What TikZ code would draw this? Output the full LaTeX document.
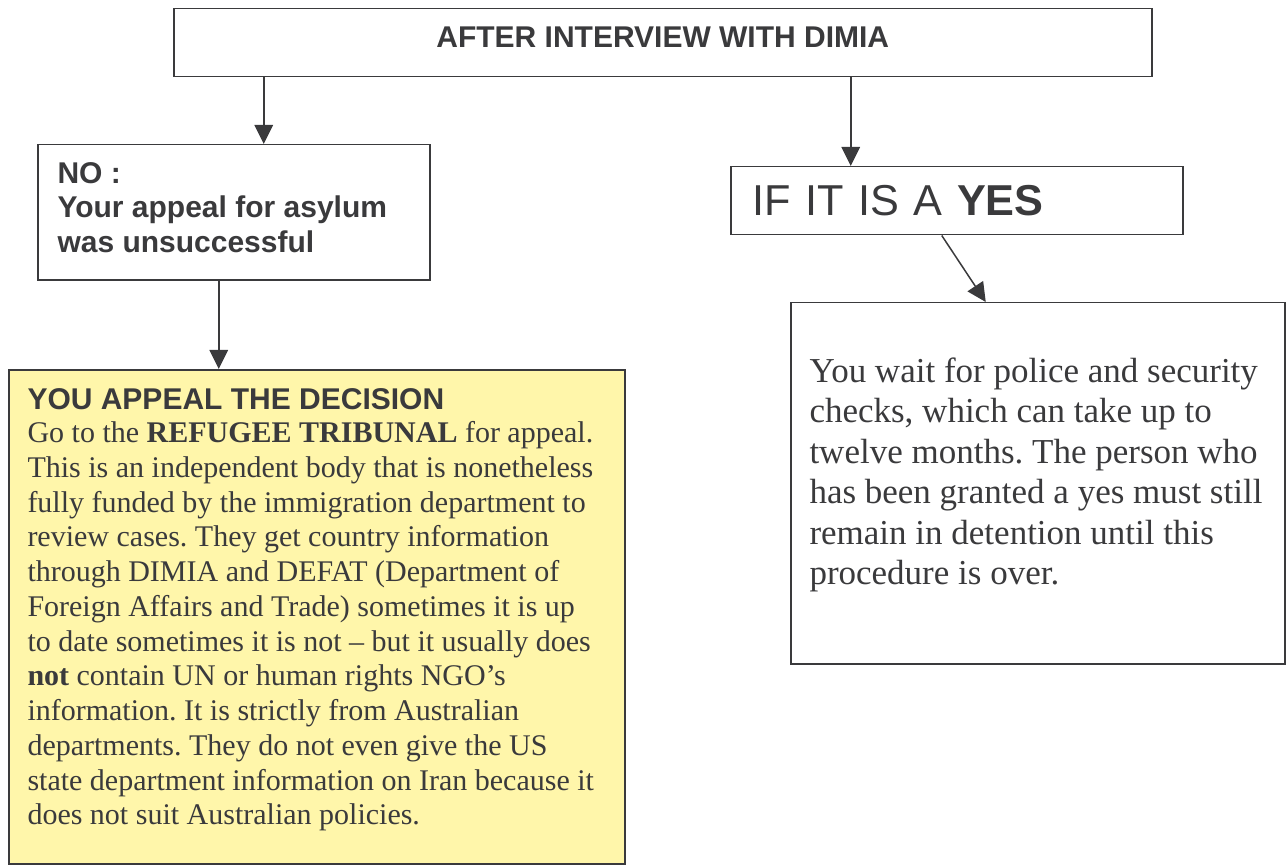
\documentclass[tikz,border=0pt]{standalone}
\usepackage{fontspec}
\setmainfont{Liberation Serif}
\setsansfont{Liberation Sans}
\usepackage{xcolor}
\usepackage{tikz}
\usetikzlibrary{positioning,arrows.meta}
\frenchspacing

\definecolor{inkgray}{HTML}{3A3A3C}
\definecolor{notepaper}{HTML}{FFF6AA}

\tikzset{
    flowbox/.style={draw=inkgray, line width=0.6pt, rectangle, inner sep=0pt, anchor=north west, text=inkgray},
    boxtext/.style={inner sep=0pt, anchor=north west, align=left, text=inkgray},
    flowarrow/.style={draw=inkgray, line width=0.6pt, -{Triangle[length=7.6pt,width=7.4pt]}}
}

\begin{document}
\begin{tikzpicture}[x=0.4pt, y=-0.4pt]
            \useasboundingbox (0,0) rectangle (1286,865);
            \node[flowbox, minimum width=391.2pt, minimum height=27.2pt, text depth=4.4pt, font=\sffamily\bfseries\fontsize{12}{13.8}\selectfont] (interview) at (173,8) {AFTER INTERVIEW WITH DIMIA};
            \node[flowbox, minimum width=156.8pt, minimum height=54pt] (nobox) at (37,144) {};
            \node[boxtext, font=\sffamily\bfseries\fontsize{12}{13.8}\selectfont] (notext) at (57,162) {NO :\\Your appeal for asylum\\was unsuccessful};
            \node[flowbox, fill=notepaper, minimum width=246.4pt, minimum height=197.6pt] (appeal) at (8,369) {};
            \node[boxtext, font=\fontsize{12}{13.9}\selectfont] (appealtext) at (27,388) {{\sffamily\bfseries YOU APPEAL THE DECISION}\\[-0.6pt]
                Go to the \textbf{REFUGEE TRIBUNAL} for appeal.\\
                This is an independent body that is nonetheless\\
                fully funded by the immigration department to\\
                review cases. They get country information\\
                through DIMIA and DEFAT (Department of\\
                Foreign Affairs and Trade) sometimes it is up\\
                to date sometimes it is not – but it usually does\\
                \textbf{not} contain UN or human rights NGO’s\\
                information. It is strictly from Australian\\
                departments. They do not even give the US\\
                state department information on Iran because it\\
                does not suit Australian policies.};
            \node[flowbox, minimum width=180.8pt, minimum height=27.2pt, inner xsep=8.8pt, text width=163.2pt, align=left, font=\sffamily\fontsize{17.3}{20}\selectfont] (yesbox) at (730,166) {IF IT IS A \textbf{YES}};
            \node[flowbox, minimum width=197.6pt, minimum height=144.4pt] (wait) at (790,302) {};
            \node[boxtext, font=\fontsize{14}{16.2}\selectfont] (waittext) at (809,357) {You wait for police and security\\
                checks, which can take up to\\
                twelve months. The person who\\
                has been granted a yes must still\\
                remain in detention until this\\
                procedure is over.};
            % where the arrows land
            \coordinate (noin) at ([xshift=12pt]nobox.north);
            \coordinate (appin) at ([xshift=-39.2pt]appeal.north);
            \coordinate (yesin) at ([xshift=-42.4pt]yesbox.north);
            \draw[flowarrow] (interview.south -| noin) -- (noin);
            \draw[flowarrow] (nobox.south -| appin) -- (appin);
            \draw[flowarrow] (interview.south -| yesin) -- (yesin);
            \draw[flowarrow] ([xshift=-6pt]yesbox.south) -- ([xshift=-20.8pt]wait.north);
        \end{tikzpicture}
\end{document}
